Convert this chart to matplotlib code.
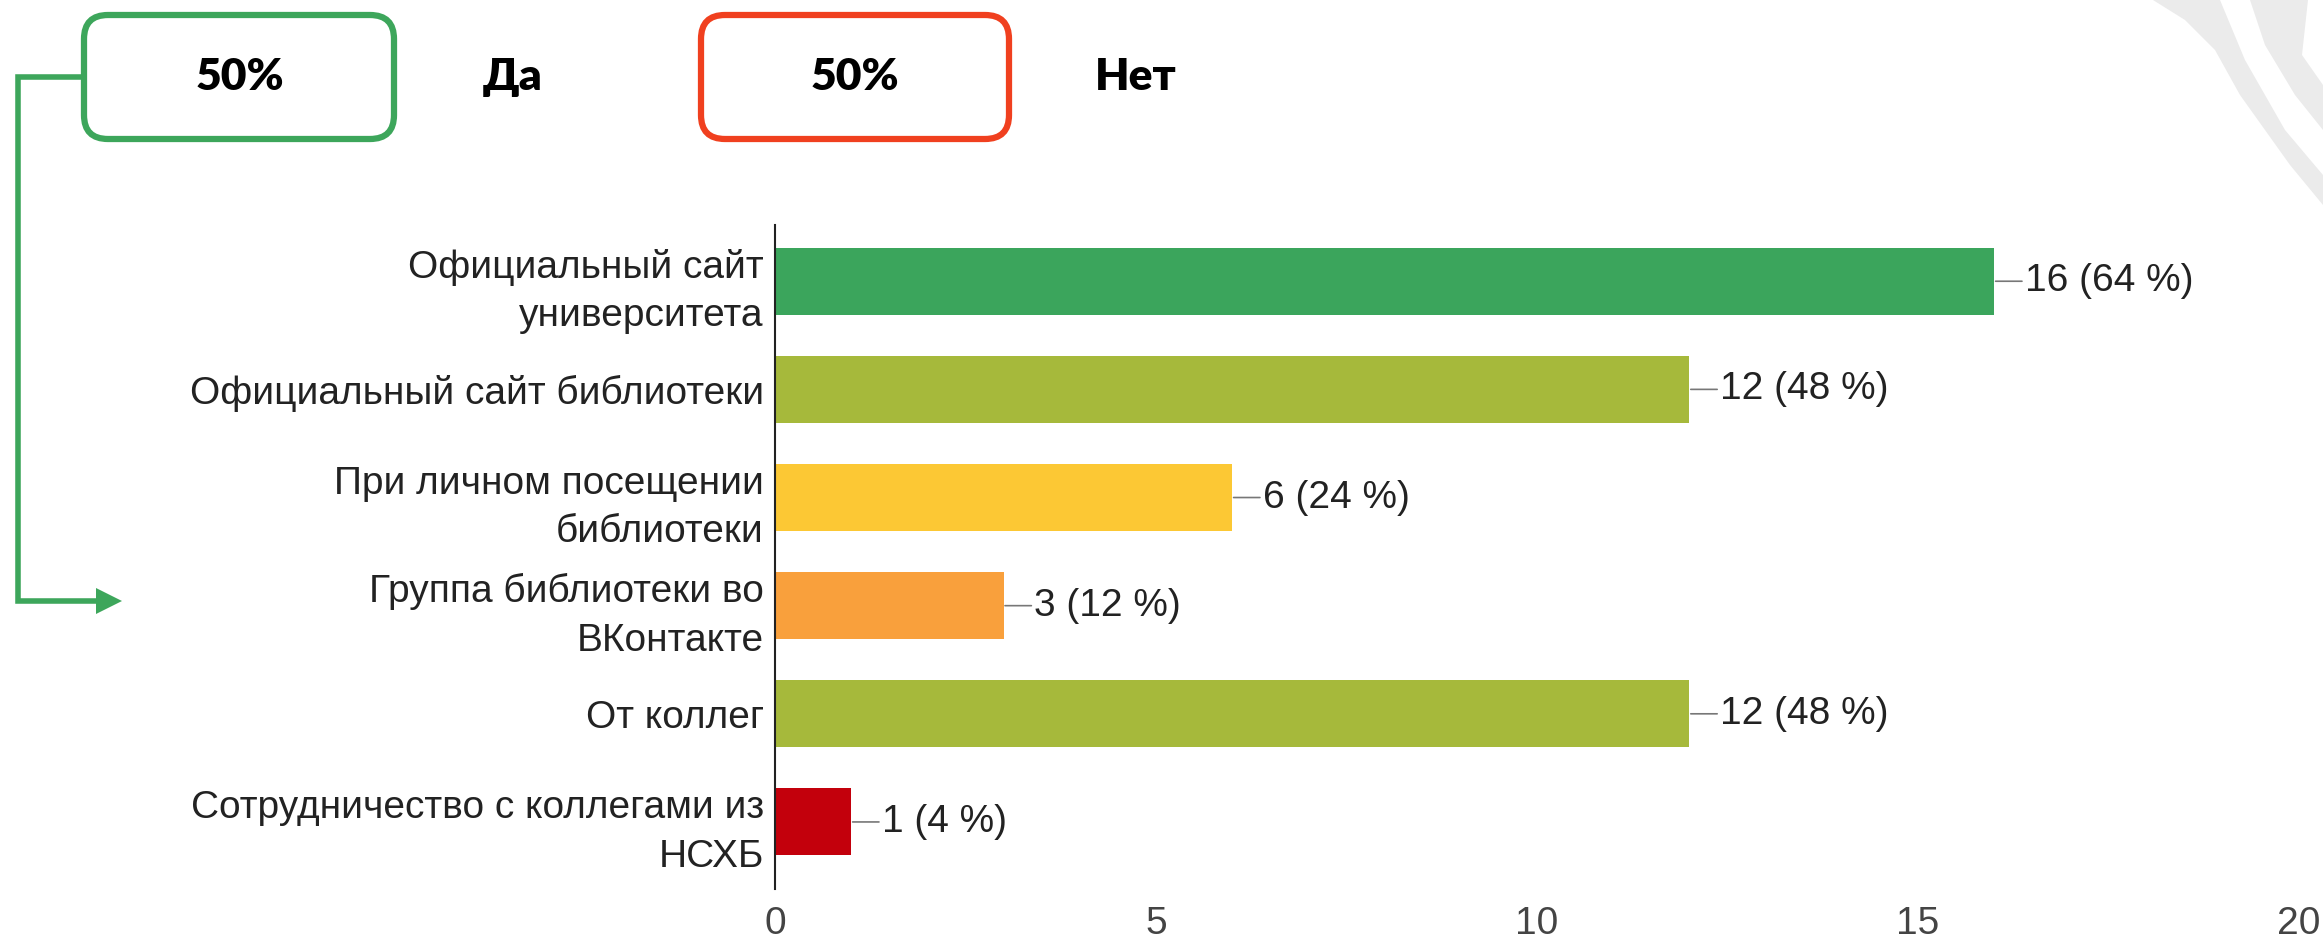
import matplotlib.pyplot as plt
from matplotlib.patches import FancyBboxPatch, Polygon
import numpy as np

categories = ["Официальный сайт\nуниверситета",
              "Официальный сайт библиотеки",
              "При личном посещении\nбиблиотеки",
              "Группа библиотеки во\nВКонтакте",
              "От коллег",
              "Сотрудничество с коллегами из\nНСХБ"]
counts = [16, 12, 6, 3, 12, 1]
percents = [64, 48, 24, 12, 48, 4]
bar_colors = ["#3ba55c", "#a6b93b", "#fcc834", "#f9a03c", "#a6b93b", "#c3000c"]
xticks = [0, 5, 10, 15, 20]

yes_share, no_share = "50%", "50%"

plt.rcParams['font.family'] = ['Liberation Sans', 'DejaVu Sans']

W, H = 2323, 939
fig = plt.figure(figsize=(W / 100, H / 100), dpi=100)
fig.patch.set_facecolor("white")

# chart
ax = fig.add_axes([775 / W, 1 - 889 / H, 1524 / W, 664 / H])
y = np.arange(len(categories))
ax.barh(y, counts, height=0.62, color=bar_colors)
ax.set_ylim(5.62, -0.52)
ax.set_xlim(0, 20)
ax.set_yticks(y)
ax.set_yticklabels(categories, fontsize=28, color="#222222", linespacing=1.45)
ax.set_xticks(xticks)
ax.set_xticklabels([str(t) for t in xticks], fontsize=28, color="#444444")
ax.tick_params(axis="both", length=0)
ax.tick_params(axis="x", pad=12)
ax.tick_params(axis="y", pad=8)
for s in ["top", "right", "bottom"]:
    ax.spines[s].set_visible(False)
ax.spines["left"].set_linewidth(1.5)
ax.spines["left"].set_color("#222222")

for yi, c, p in zip(y, counts, percents):
    ax.annotate(f"{c} ({p} %)", xy=(c, yi), xytext=(22, 0),
                textcoords="offset points", va="center", ha="left",
                fontsize=28, color="#222222",
                arrowprops=dict(arrowstyle="-", color="#777777", lw=1.2,
                                shrinkA=0, shrinkB=1))

# overlay in pixel coordinates
ov = fig.add_axes([0, 0, 1, 1], zorder=-1)
ov.set_xlim(0, W)
ov.set_ylim(H, 0)
ov.axis("off")

# grey decoration in the corner
deco = [
    [(2153, 0), (2220, 0), (2245, 60), (2285, 130), (2323, 175), (2323, 205),
     (2290, 165), (2240, 95), (2215, 50), (2185, 20)],
    [(2250, 0), (2308, 0), (2302, 55), (2323, 85), (2323, 130), (2295, 95),
     (2265, 45)],
]
for pts in deco:
    ov.add_patch(Polygon(pts, closed=True, facecolor="#ebebeb", edgecolor="none"))

green = "#3da65b"
red = "#f0401f"
ov.add_patch(FancyBboxPatch((84, 15), 310, 124, boxstyle="round,pad=0,rounding_size=24",
                            facecolor="white", edgecolor=green, lw=4.5))
ov.add_patch(FancyBboxPatch((701, 15), 308, 124, boxstyle="round,pad=0,rounding_size=24",
                            facecolor="white", edgecolor=red, lw=4.5))
head = dict(ha="center", va="center", fontsize=32, fontweight="heavy",
            family=["Lato", "DejaVu Sans"])
ov.text(240, 77, yes_share, **head)
ov.text(855, 77, no_share, **head)
ov.text(513, 77, "Да", **head)
ov.text(1136, 77, "Нет", **head)

# bracket arrow
ov.plot([82, 18, 18, 100], [77, 77, 601, 601], color=green, lw=4,
        solid_capstyle="butt", solid_joinstyle="miter")
ov.add_patch(Polygon([(96, 588), (122, 601), (96, 614)], closed=True,
                     facecolor=green, edgecolor="none"))

fig.savefig("out.png", dpi=100)
